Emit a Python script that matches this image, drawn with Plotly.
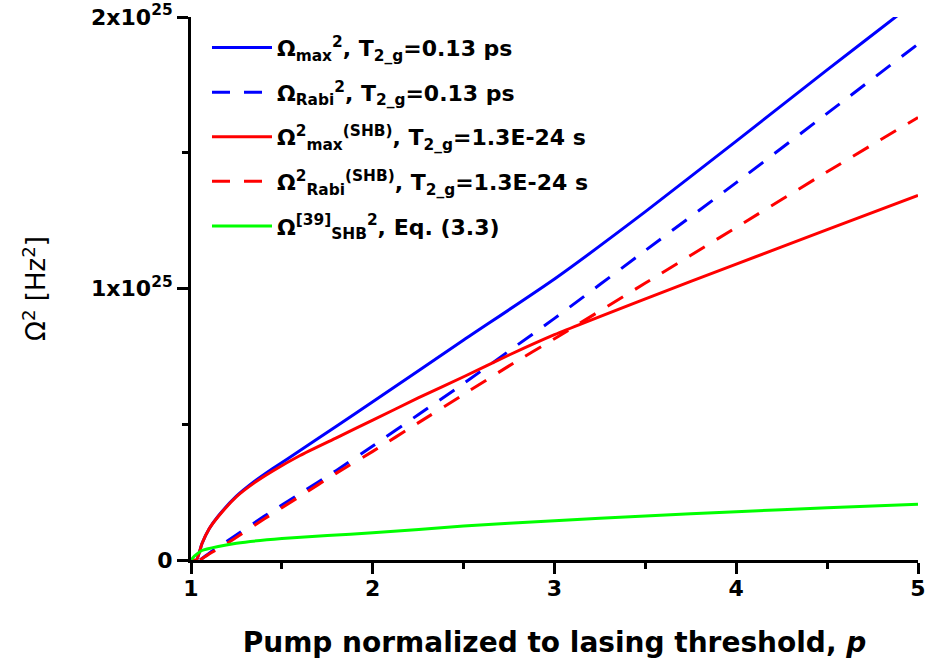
import plotly.graph_objects as go

# ---- data (values in units of 1e25 Hz^2) ----
E = 1e25
p_blue = [1.0, 1.03, 1.06, 1.1, 1.15, 1.25, 1.35, 1.45, 1.6, 1.8, 2.0, 2.5, 3.0, 3.5, 4.0, 4.5, 4.9, 5.0]
v_blue = [0.0, 0.0, 0.06, 0.115, 0.162, 0.235, 0.29, 0.337, 0.403, 0.493, 0.583, 0.81, 1.035, 1.283, 1.543, 1.805, 2.012, 2.065]

p_blue_d = [1.05, 1.1, 1.2, 1.4, 1.6, 1.8, 2.0, 2.25, 2.5, 2.75, 3.0, 3.5, 4.0, 4.5, 5.0]
v_blue_d = [0.0, 0.025, 0.07, 0.16, 0.245, 0.33, 0.42, 0.535, 0.65, 0.77, 0.89, 1.14, 1.39, 1.645, 1.9]

p_red = [1.0, 1.03, 1.06, 1.1, 1.15, 1.25, 1.35, 1.45, 1.6, 1.8, 2.0, 2.25, 2.5, 2.75, 3.0, 3.5, 4.0, 4.5, 5.0]
v_red = [0.0, 0.0, 0.06, 0.115, 0.16, 0.233, 0.285, 0.328, 0.385, 0.45, 0.515, 0.597, 0.675, 0.755, 0.83, 0.962, 1.09, 1.217, 1.343]

p_red_d = [1.05, 1.1, 1.2, 1.4, 1.6, 1.8, 2.0, 2.25, 2.5, 2.75, 3.0, 3.5, 4.0, 4.5, 5.0]
v_red_d = [0.0, 0.022, 0.062, 0.15, 0.235, 0.32, 0.40, 0.505, 0.61, 0.715, 0.815, 1.02, 1.225, 1.43, 1.63]

p_green = [1.0, 1.02, 1.06, 1.15, 1.25, 1.5, 1.75, 2.0, 2.5, 3.0, 3.5, 4.0, 4.5, 5.0]
v_green = [0.0, 0.015, 0.035, 0.05, 0.062, 0.079, 0.09, 0.10, 0.125, 0.145, 0.162, 0.178, 0.192, 0.205]

names = [
    "Ω<sub>max</sub><sup>2</sup>, T<sub>2_g</sub>=0.13 ps",
    "Ω<sub>Rabi</sub><sup>2</sup>, T<sub>2_g</sub>=0.13 ps",
    "Ω<sup>2</sup><sub>max</sub><sup>(SHB)</sup>, T<sub>2_g</sub>=1.3E-24 s",
    "Ω<sup>2</sup><sub>Rabi</sub><sup>(SHB)</sup>, T<sub>2_g</sub>=1.3E-24 s",
    "Ω<sup>[39]</sup><sub>SHB</sub><sup>2</sup>, Eq. (3.3)",
]

x_ticks = [1, 2, 3, 4, 5]
y_ticks = [0, 1 * E, 2 * E]
y_ticktext = ["0", "1x10<sup>25</sup>", "2x10<sup>25</sup>"]

FONT = "DejaVu Sans, Verdana, sans-serif"
DASH = "18px,14px"

series = [
    (p_blue, v_blue, "#0000ff", "solid"),
    (p_blue_d, v_blue_d, "#0000ff", DASH),
    (p_red, v_red, "#ff0000", "solid"),
    (p_red_d, v_red_d, "#ff0000", DASH),
    (p_green, v_green, "#00ff00", "solid"),
]

fig = go.Figure()
for i, (px, pv, col, dash) in enumerate(series):
    fig.add_trace(go.Scatter(
        x=px, y=[v * E for v in pv], mode="lines", name=names[i],
        line=dict(color=col, width=3, dash=dash, shape="spline", smoothing=0.5),
        legendgroup=f"g{i}",
    ))

YMAX = 2.000001 * E

fig.update_layout(
    width=927, height=666,
    margin=dict(l=191, r=9, t=17, b=106, autoexpand=False),
    paper_bgcolor="white", plot_bgcolor="white",
    font=dict(family=FONT, color="black"),
    showlegend=True,
    legend=dict(
        x=0.022, y=0.982, xanchor="left", yanchor="top",
        bgcolor="rgba(0,0,0,0)", borderwidth=0,
        font=dict(family=FONT, size=22, color="black", weight="bold"),
        itemwidth=60, tracegroupgap=13,
    ),
    xaxis=dict(
        range=[1, 5], tickvals=x_ticks, ticktext=[str(t) for t in x_ticks],
        automargin=False, ticklabeloverflow="allow",
        showgrid=False, zeroline=False, showline=True, linecolor="black", linewidth=3,
        ticks="outside", ticklen=11, tickwidth=2.5, tickcolor="black",
        ticklabelstandoff=-4,
        minor=dict(tickvals=[1.5, 2.5, 3.5, 4.5], ticks="outside", ticklen=6, tickwidth=2.5, tickcolor="black", showgrid=False),
        tickfont=dict(family=FONT, size=22, weight="bold"),
        title=dict(text="Pump normalized to lasing threshold, <i>p</i>", standoff=32,
                   font=dict(family=FONT, size=28, weight="bold")),
    ),
    yaxis=dict(
        range=[0, YMAX], tickvals=y_ticks, ticktext=y_ticktext,
        automargin=False, ticklabeloverflow="allow",
        showgrid=False, zeroline=False, showline=True, linecolor="black", linewidth=3,
        ticks="outside", ticklen=11, tickwidth=2.5, tickcolor="black",
        minor=dict(tickvals=[0.5 * E, 1.5 * E], ticks="outside", ticklen=6, tickwidth=2.5, tickcolor="black", showgrid=False),
        tickfont=dict(family=FONT, size=22, weight="bold"),
        title=dict(text="Ω<sup>2</sup> [Hz<sup>2</sup>]", standoff=38,
                   font=dict(family=FONT, size=26)),
    ),
    xaxis2=dict(
        overlaying="x", side="top", anchor="y", range=[1, 5], automargin=False,
        tickvals=[1.5, 2, 2.5, 3, 3.5, 4, 4.5], ticks="inside", ticklen=7, tickwidth=2.5, tickcolor="black",
        showticklabels=False, showgrid=False, zeroline=False, showline=True, linecolor="black", linewidth=3,
    ),
    yaxis2=dict(
        overlaying="y", side="right", anchor="x", range=[0, YMAX], automargin=False,
        tickvals=[0.5 * E, 1 * E, 1.5 * E], ticks="inside", ticklen=7, tickwidth=2.5, tickcolor="black",
        showticklabels=False, showgrid=False, zeroline=False, showline=True, linecolor="black", linewidth=3,
    ),
)

fig.write_html("out.html", config={"displayModeBar": False},
               post_script="document.body.style.margin='0px';")
